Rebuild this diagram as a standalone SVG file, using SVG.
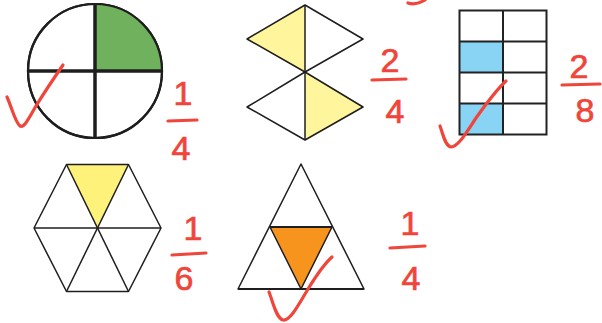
<svg xmlns="http://www.w3.org/2000/svg" width="602" height="323" viewBox="0 0 602 323">
<style>
.shape{stroke:#1e1e1e;stroke-width:1.5;stroke-linejoin:round;fill:none}
.ink{fill:none;stroke:#f0453a;stroke-width:3.2;stroke-linecap:round;stroke-linejoin:round}
.num{font-family:"Liberation Sans",Arial,sans-serif;font-size:34px;fill:#f0453a;stroke:#f0453a;stroke-width:0.7;text-anchor:middle}
</style>
<rect width="602" height="323" fill="#ffffff"/>
<g id="circle">
<circle cx="95" cy="71" r="67" fill="#ffffff" stroke="#1e1e1e" stroke-width="2.2"/>
<path d="M95,71 L95,4 A67,67 0 0 1 162,71 Z" fill="#70b15e"/>
<circle cx="95" cy="71" r="67" fill="none" stroke="#1e1e1e" stroke-width="2.2"/>
<line x1="28" y1="71" x2="162" y2="71" stroke="#1e1e1e" stroke-width="3.5"/>
<line x1="95" y1="4" x2="95" y2="138" stroke="#1e1e1e" stroke-width="3.5"/>
</g>
<g id="diamonds">
<polygon points="305,5 247,39 305,72" fill="#fff59c"/>
<polygon points="305,72 363,107 305,140" fill="#fff59c"/>
<polygon class="shape" points="305,5 363,39 305,72 247,39"/>
<polygon class="shape" points="305,72 363,107 305,140 247,107"/>
<line class="shape" x1="305" y1="5" x2="305" y2="140"/>
</g>
<g id="grid">
<rect x="459.5" y="41.5" width="43.5" height="31" fill="#89d4f5"/>
<rect x="459.5" y="103.5" width="43.5" height="31" fill="#89d4f5"/>
<rect x="459.5" y="10.5" width="87" height="124" fill="none" stroke="#222" stroke-width="2"/>
<line x1="503" y1="10.5" x2="503" y2="134.5" stroke="#222" stroke-width="2"/>
<line x1="459.5" y1="41.5" x2="546.5" y2="41.5" stroke="#222" stroke-width="2"/>
<line x1="459.5" y1="72.5" x2="546.5" y2="72.5" stroke="#222" stroke-width="2"/>
<line x1="459.5" y1="103.5" x2="546.5" y2="103.5" stroke="#222" stroke-width="2"/>
</g>
<g id="hexagon">
<polygon points="66.5,164.5 128.5,164.5 97.5,228" fill="#fff27a"/>
<polygon class="shape" points="66.5,164.5 128.5,164.5 161,228 128.5,291.5 66.5,291.5 34,228"/>
<line class="shape" x1="34" y1="228" x2="161" y2="228"/>
<line class="shape" x1="66.5" y1="164.5" x2="128.5" y2="291.5"/>
<line class="shape" x1="128.5" y1="164.5" x2="66.5" y2="291.5"/>
</g>
<g id="triangle">
<polygon points="270,227 332,227 301,289" fill="#f7941e"/>
<polygon class="shape" points="301,164 364,289 238,289"/>
<polygon class="shape" points="270,227 332,227 301,289"/>
<line x1="238" y1="289" x2="364" y2="289" stroke="#1e1e1e" stroke-width="2"/>
<line x1="270" y1="227" x2="332" y2="227" stroke="#1e1e1e" stroke-width="2"/>
</g>
<g id="checks">
<path class="ink" d="M7,97 C12,108 15,122 20,126 C24,128 28,120 36,106 C44,93 54,78 63,65"/>
<path class="ink" d="M440,126 C443,134 445,146 451,147 C458,147 466,133 476,118 C486,104 496,90 506,81"/>
<path class="ink" d="M269,292 C273,302 276,318 283,320 C290,321 298,306 308,289 C316,276 324,264 332,257"/>
<path class="ink" d="M408,3 C414,5 420,3 425,0"/>
</g>
<g id="frac-circle">
<text class="num" x="183" y="105">1</text>
<line class="ink" x1="168" y1="121" x2="197" y2="120"/>
<text class="num" x="181" y="160">4</text>
</g>
<g id="frac-diamonds">
<text class="num" x="390" y="72">2</text>
<line class="ink" x1="372" y1="80" x2="406" y2="79"/>
<text class="num" x="395" y="123">4</text>
</g>
<g id="frac-grid">
<text class="num" x="579" y="78">2</text>
<line class="ink" x1="562" y1="85" x2="600" y2="84"/>
<text class="num" x="585" y="122">8</text>
</g>
<g id="frac-hexagon">
<text class="num" x="193" y="240">1</text>
<line class="ink" x1="172" y1="255" x2="206" y2="253"/>
<text class="num" x="184" y="290">6</text>
</g>
<g id="frac-triangle">
<text class="num" x="410" y="235">1</text>
<line class="ink" x1="390" y1="248" x2="425" y2="246"/>
<text class="num" x="411" y="290">4</text>
</g>
</svg>
